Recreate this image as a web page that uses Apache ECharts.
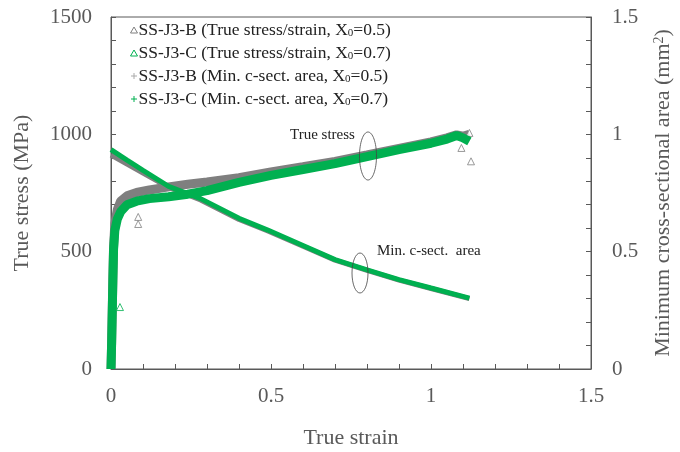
<!DOCTYPE html>
<html>
<head>
<meta charset="utf-8">
<script src="https://cdn.jsdelivr.net/npm/echarts@6/dist/echarts.min.js"></script>
<style>
  html, body { margin: 0; padding: 0; background: #fff; }
  #chart { width: 680px; height: 452px; }
</style>
</head>
<body>
<div id="chart"></div>
<script>
// true stress vs true strain
const stressStrain = [0, 0.002, 0.004, 0.006, 0.008, 0.012, 0.02, 0.03, 0.05, 0.08, 0.12, 0.18, 0.24, 0.3, 0.4, 0.5, 0.6, 0.7, 0.8, 0.9, 1.0, 1.05, 1.08, 1.1, 1.12]
const stressB = [0, 120, 260, 400, 520, 620, 680, 715, 738, 752, 763, 776, 787, 797, 815, 840, 862, 885, 912, 940, 968, 985, 998, 992, 1000]
const stressC = [0, 110, 250, 390, 510, 590, 640, 670, 700, 715, 726, 734, 745, 760, 795, 825, 850, 875, 905, 935, 962, 980, 995, 985, 970]
const outliersB = [[0.085, 648], [0.085, 618], [1.095, 942], [1.125, 885], [1.12, 1006]]
const outliersC = [[0.028, 264]]

// minimum cross-sectional area vs true strain
const areaStrain = [0, 0.05, 0.1, 0.18, 0.28, 0.4, 0.49, 0.6, 0.7, 0.8, 0.9, 1.0, 1.12]
const areaB = [0.912, 0.873, 0.835, 0.774, 0.72, 0.637, 0.588, 0.523, 0.464, 0.42, 0.379, 0.343, 0.3]
const areaC = [0.935, 0.89, 0.846, 0.778, 0.726, 0.642, 0.592, 0.526, 0.466, 0.422, 0.381, 0.345, 0.302]

const xTicks = [0, 0.5, 1, 1.5]
const leftTicks = [0, 500, 1000, 1500]
const rightTicks = [0, 0.5, 1, 1.5]

const GRAY = '#7f7f7f'
const GREEN = '#00b050'
const AXIS = '#595959'
const FONT = 'Liberation Serif'

const names = [
  'SS-J3-B (True stress/strain, X0=0.5)',
  'SS-J3-C (True stress/strain, X0=0.7)',
  'SS-J3-B (Min. c-sect. area, X0=0.5)',
  'SS-J3-C (Min. c-sect. area, X0=0.7)',
]

const pairs = (xs, ys) => xs.map((x, i) => [x, ys[i]])
const PLUS = 'path://M0,5L10,5M5,0L5,10'

const chart = echarts.init(document.getElementById('chart'))

const axisCommon = {
  type: 'value',
  axisLine: { show: true, lineStyle: { color: AXIS, width: 1 } },
  axisTick: { show: true, inside: true, length: 5, lineStyle: { color: AXIS } },
  minorTick: { show: true, splitNumber: 5, length: 5, lineStyle: { color: AXIS } },
  splitLine: { show: false },
  axisLabel: { color: AXIS, fontFamily: FONT, fontSize: 21 },
  nameTextStyle: { color: AXIS, fontFamily: FONT, fontSize: 22 },
}

chart.setOption({
  animation: false,
  grid: {
    left: 111, right: 89, top: 17, bottom: 83,
    outerBoundsMode: 'none', containLabel: false,
    show: true, borderColor: AXIS, borderWidth: 1,
  },
  legend: {
    orient: 'vertical',
    left: 125,
    top: 16,
    itemWidth: 7,
    itemHeight: 6,
    itemGap: 5,
    textStyle: {
      fontFamily: FONT,
      fontSize: 17.5,
      color: '#222',
      padding: [0, 0, 0, -4],
      rich: {
        sub: { fontFamily: FONT, fontSize: 11, padding: [7, 0, 0, 0], color: '#222' },
      },
    },
    formatter: (n) => n.replace('X0=', 'X{sub|0}='),
    data: [
      { name: names[0], icon: 'triangle', itemStyle: { color: 'transparent', borderColor: GRAY, borderWidth: 1 } },
      { name: names[1], icon: 'triangle', itemStyle: { color: 'transparent', borderColor: GREEN, borderWidth: 1 } },
      { name: names[2], icon: PLUS, itemStyle: { color: 'transparent', borderColor: '#aaa', borderWidth: 1 } },
      { name: names[3], icon: PLUS, itemStyle: { color: 'transparent', borderColor: GREEN, borderWidth: 1 } },
    ],
  },
  xAxis: {
    ...axisCommon,
    min: 0,
    max: 1.5,
    interval: 0.5,
    name: 'True strain',
    nameLocation: 'middle',
    nameGap: 58,
    axisLabel: { ...axisCommon.axisLabel, margin: 17, formatter: (v) => (xTicks.includes(v) ? String(v) : '') },
  },
  yAxis: [
    {
      ...axisCommon,
      min: 0,
      max: 1500,
      interval: 500,
      name: 'True stress (MPa)',
      nameLocation: 'middle',
      nameGap: 78,
      axisLabel: { ...axisCommon.axisLabel, margin: 19, formatter: (v) => (leftTicks.includes(v) ? String(v) : '') },
    },
    {
      ...axisCommon,
      position: 'right',
      min: 0,
      max: 1.5,
      interval: 0.5,
      name: 'Minimum cross-sectional area (mm{sup|2})',
      nameLocation: 'middle',
      nameGap: 61,
      nameRotate: 90,
      nameTextStyle: {
        ...axisCommon.nameTextStyle,
        rich: { sup: { fontFamily: FONT, fontSize: 14, color: AXIS, padding: [0, 0, 9, 0] } },
      },
      axisLabel: { ...axisCommon.axisLabel, margin: 21, formatter: (v) => (rightTicks.includes(v) ? String(v) : '') },
    },
  ],
  series: [
    {
      name: names[0], type: 'line', yAxisIndex: 0, showSymbol: false,
      lineStyle: { color: GRAY, width: 9 }, itemStyle: { color: GRAY },
      data: pairs(stressStrain, stressB), z: 2,
    },
    {
      name: names[0], type: 'scatter', yAxisIndex: 0, symbol: 'triangle', symbolSize: 7,
      itemStyle: { color: '#fff', borderColor: GRAY, borderWidth: 1 },
      data: outliersB, z: 2,
    },
    {
      name: names[2], type: 'line', yAxisIndex: 1, showSymbol: false,
      lineStyle: { color: GRAY, width: 5 }, itemStyle: { color: GRAY },
      data: pairs(areaStrain, areaB), z: 3,
    },
    {
      name: names[1], type: 'line', yAxisIndex: 0, showSymbol: false,
      lineStyle: { color: GREEN, width: 9 }, itemStyle: { color: GREEN },
      data: pairs(stressStrain, stressC), z: 4,
    },
    {
      name: names[1], type: 'scatter', yAxisIndex: 0, symbol: 'triangle', symbolSize: 7,
      itemStyle: { color: '#fff', borderColor: GREEN, borderWidth: 1 },
      data: outliersC, z: 4,
    },
    {
      name: names[3], type: 'line', yAxisIndex: 1, showSymbol: false,
      lineStyle: { color: GREEN, width: 5 }, itemStyle: { color: GREEN },
      data: pairs(areaStrain, areaC), z: 5,
    },
  ],
  graphic: [
    { type: 'text', left: 290, top: 128, style: { text: 'True stress', font: '15px "Liberation Serif"', fill: '#222' } },
    { type: 'ellipse', shape: { cx: 368, cy: 156, rx: 8.5, ry: 24 }, style: { fill: 'none', stroke: '#444', lineWidth: 0.8 }, z: 10 },
    { type: 'text', left: 377, top: 244, style: { text: 'Min. c-sect.  area', font: '15px "Liberation Serif"', fill: '#222' } },
    { type: 'ellipse', shape: { cx: 360, cy: 273, rx: 8, ry: 20 }, style: { fill: 'none', stroke: '#444', lineWidth: 0.8 }, z: 10 },
  ],
})
</script>
</body>
</html>
